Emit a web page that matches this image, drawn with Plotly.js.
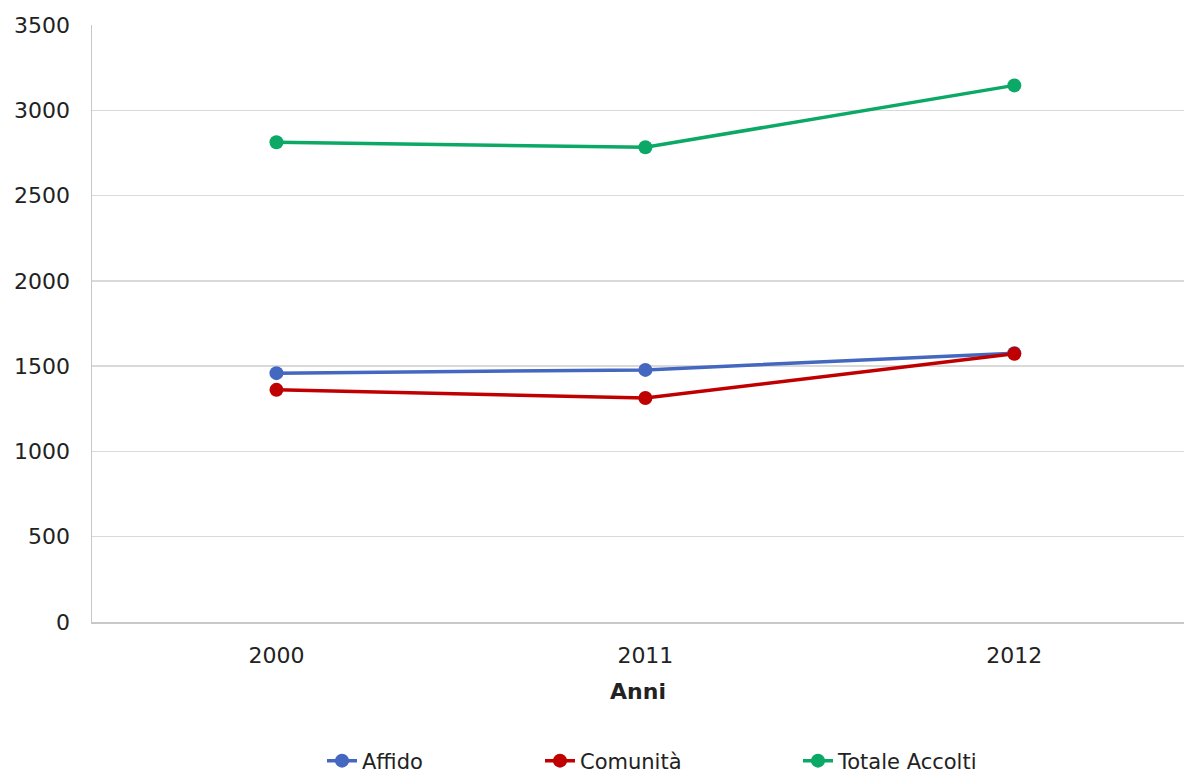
<!DOCTYPE html>
<html>
<head>
<meta charset="utf-8">
<script src="https://cdn.plot.ly/plotly-3.0.1.min.js"></script>
<style>html,body{margin:0;padding:0;background:#fff;}#chart{width:1184px;height:776px;}</style>
</head>
<body>
<div id="chart"></div>
<script>
const years = ['2000', '2011', '2012'];
const affido = [1459, 1478, 1576];
const comunita = [1361, 1313, 1572];
const totale = [2813, 2783, 3146];
const seriesNames = ['Affido', 'Comunità', 'Totale Accolti'];
const seriesColors = ['#4468BF', '#C00000', '#0BA866'];

const font = {family: 'DejaVu Sans, Verdana, sans-serif', size: 22, color: '#222'};
const legendFont = {family: 'DejaVu Sans, Verdana, sans-serif', size: 21, color: '#222'};
const values = [affido, comunita, totale];
const legendIds = ['legend', 'legend2', 'legend3'];
const traces = values.map((v, i) => ({
  type: 'scatter', mode: 'lines+markers', x: years, y: v, name: seriesNames[i],
  line: {color: seriesColors[i], width: 3.5},
  marker: {color: seriesColors[i], size: 14},
  legend: legendIds[i]
}));
const legendX = [330, 548, 806];
const legendBase = {orientation: 'h', yref: 'container', yanchor: 'middle', y: (776 - 761) / 776, xanchor: 'left', font: legendFont, bgcolor: 'rgba(0,0,0,0)', itemwidth: 30, tracegroupgap: 0};
const layout = {
  width: 1184, height: 776,
  margin: {l: 92, r: 0, t: 25, b: 154},
  paper_bgcolor: '#fff', plot_bgcolor: '#fff',
  font: font,
  showlegend: true,
  xaxis: {
    type: 'category', range: [-0.5, 2.46],
    showgrid: false, showline: true, linecolor: '#c8c8c8', linewidth: 1.5,
    ticks: '', tickfont: font, ticklabelstandoff: 13,
    title: {text: '<b>Anni</b>', font: font, standoff: 16}
  },
  yaxis: {
    range: [0, 3500], dtick: 500, tick0: 0,
    showgrid: true, gridcolor: '#d9d9d9', gridwidth: 1.5,
    showline: true, linecolor: '#c8c8c8', linewidth: 1.5,
    zeroline: false, ticks: '', tickfont: font, ticklabelstandoff: 16
  }
};
legendIds.forEach((id, i) => {
  layout[id] = Object.assign({}, legendBase, {x: (legendX[i] - 92 - 8) / 1092});
});
Plotly.newPlot('chart', traces, layout, {displayModeBar: false, staticPlot: true});
</script>
</body>
</html>
